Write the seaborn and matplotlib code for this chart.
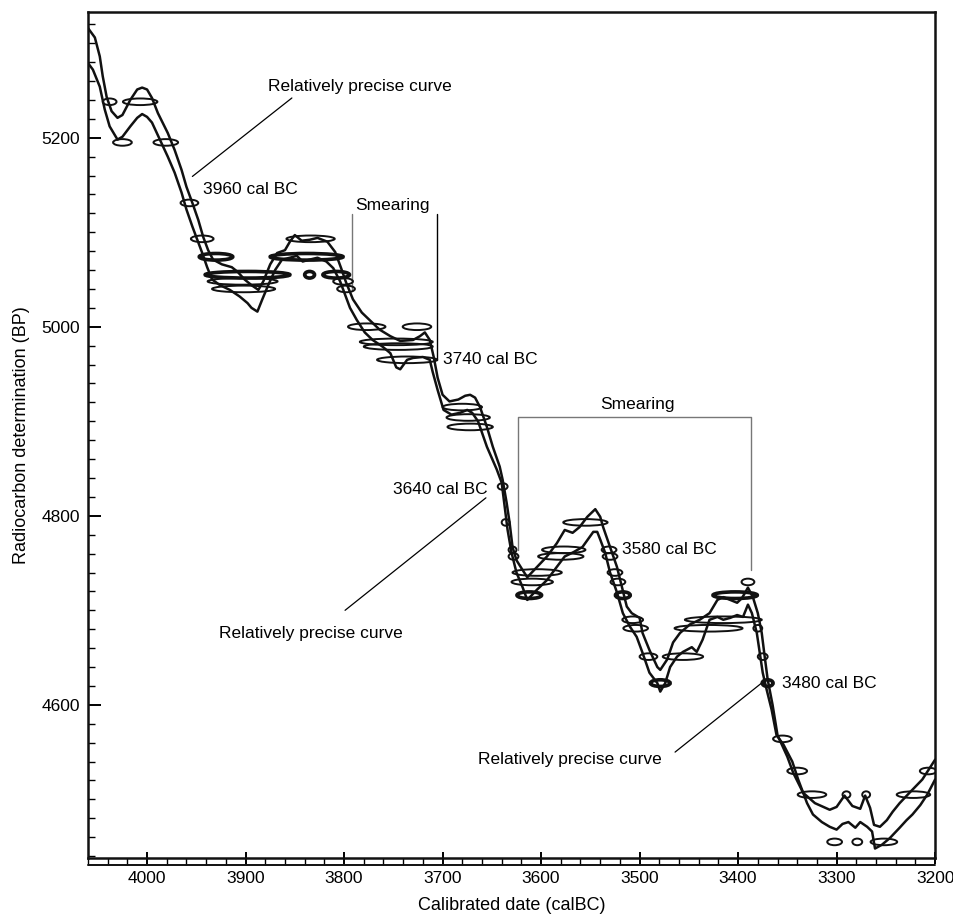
import pandas as pd
import matplotlib
matplotlib.use('Agg')
from matplotlib import pyplot as plt
from matplotlib.patches import Ellipse
import matplotlib.ticker as mtick
import seaborn as sns

# upper and lower edges of the calibration curve band (calBC, BP)
upper_x = [4060, 4053, 4048, 4045, 4041, 4036, 4030, 4025, 4017, 4010, 4005, 4000, 3995, 3989,
           3979, 3972, 3965, 3960, 3954, 3948, 3943, 3938, 3933, 3924, 3914, 3908, 3901, 3894,
           3887, 3882, 3875, 3868, 3860, 3855, 3850, 3843, 3835, 3827, 3817, 3809, 3803, 3798,
           3791, 3782, 3772, 3764, 3753, 3743, 3730, 3723, 3718, 3713, 3709, 3705, 3700, 3693,
           3684, 3677, 3672, 3667, 3662, 3655, 3649, 3642, 3639, 3635, 3632, 3629, 3625, 3619,
           3614, 3604, 3594, 3584, 3576, 3568, 3561, 3553, 3545, 3540, 3537, 3530, 3523, 3518,
           3513, 3508, 3500, 3497, 3490, 3482, 3479, 3472, 3466, 3459, 3449, 3439, 3429, 3421,
           3415, 3408, 3401, 3396, 3390, 3385, 3380, 3376, 3373, 3370, 3365, 3360, 3350, 3344,
           3334, 3322, 3307, 3300, 3292, 3284, 3276, 3271, 3266, 3262, 3256, 3249, 3243, 3236,
           3226, 3213, 3200]
upper_y = [5316, 5306, 5286, 5265, 5243, 5228, 5221, 5224, 5240, 5251, 5253, 5251, 5242, 5226,
           5205, 5187, 5166, 5148, 5131, 5113, 5095, 5081, 5071, 5066, 5063, 5058, 5050, 5044,
           5039, 5048, 5066, 5078, 5081, 5090, 5097, 5091, 5092, 5094, 5090, 5079, 5062, 5047,
           5029, 5015, 5005, 4997, 4990, 4985, 4986, 4990, 4994, 4986, 4968, 4946, 4928, 4921,
           4923, 4927, 4928, 4925, 4915, 4894, 4873, 4852, 4838, 4814, 4793, 4767, 4753, 4743,
           4735, 4746, 4757, 4771, 4785, 4782, 4788, 4799, 4807, 4799, 4788, 4767, 4746, 4725,
           4704, 4697, 4692, 4676, 4658, 4640, 4637, 4648, 4666, 4676, 4685, 4690, 4697, 4711,
           4714, 4711, 4708, 4713, 4724, 4714, 4697, 4676, 4651, 4627, 4600, 4568, 4545, 4528,
           4507, 4496, 4489, 4492, 4504, 4493, 4490, 4504, 4491, 4473, 4471, 4478, 4487, 4496,
           4507, 4521, 4542]

lower_x = [4060, 4055, 4048, 4043, 4038, 4030, 4025, 4017, 4010, 4005, 4000, 3995, 3987, 3979,
           3972, 3965, 3960, 3954, 3949, 3944, 3939, 3934, 3926, 3916, 3906, 3898, 3894, 3888,
           3883, 3877, 3870, 3863, 3855, 3848, 3842, 3835, 3827, 3818, 3811, 3804, 3799, 3794,
           3787, 3779, 3771, 3761, 3753, 3747, 3743, 3736, 3730, 3720, 3713, 3710, 3705, 3699,
           3691, 3682, 3675, 3670, 3664, 3655, 3645, 3640, 3637, 3634, 3630, 3625, 3619, 3614,
           3604, 3594, 3584, 3576, 3568, 3558, 3547, 3543, 3540, 3535, 3530, 3523, 3517, 3510,
           3503, 3497, 3490, 3482, 3479, 3474, 3469, 3462, 3456, 3447, 3442, 3436, 3429, 3421,
           3415, 3408, 3401, 3395, 3390, 3386, 3381, 3378, 3375, 3371, 3366, 3361, 3354, 3345,
           3339, 3330, 3324, 3315, 3307, 3300, 3294, 3288, 3281, 3276, 3269, 3264, 3261, 3254,
           3246, 3236, 3229, 3223, 3215, 3208, 3200]
lower_y = [5279, 5272, 5254, 5230, 5212, 5198, 5201, 5212, 5221, 5225, 5222, 5216, 5198, 5180,
           5163, 5142, 5124, 5106, 5092, 5078, 5063, 5050, 5044, 5039, 5032, 5025, 5020, 5016,
           5029, 5044, 5060, 5071, 5073, 5075, 5069, 5071, 5073, 5069, 5062, 5048, 5034, 5020,
           5007, 4994, 4986, 4979, 4972, 4957, 4955, 4965, 4967, 4968, 4965, 4952, 4933, 4912,
           4907, 4909, 4912, 4909, 4900, 4873, 4849, 4835, 4810, 4785, 4761, 4740, 4725, 4711,
           4722, 4732, 4746, 4757, 4761, 4767, 4783, 4783, 4775, 4761, 4740, 4719, 4697, 4683,
           4672, 4655, 4634, 4623, 4614, 4623, 4640, 4651, 4656, 4661, 4656, 4669, 4690, 4693,
           4690, 4692, 4695, 4693, 4706, 4697, 4676, 4655, 4634, 4616, 4595, 4568, 4558, 4540,
           4521, 4496, 4484, 4476, 4471, 4468, 4474, 4476, 4470, 4476, 4471, 4466, 4448, 4452,
           4459, 4470, 4478, 4484, 4494, 4505, 4521]

# intercept ellipses: centre date, radiocarbon level, spread in years
ell_x = [4038, 4007, 4025, 3981, 3957, 3944, 3834, 3930, 3838, 3898, 3835, 3808, 3903, 3801,
         3902, 3798, 3777, 3726, 3747, 3745, 3736, 3680, 3674, 3672, 3639, 3636, 3555, 3629,
         3577, 3531, 3628, 3580, 3530, 3604, 3525, 3609, 3522, 3390, 3612, 3517, 3403, 3507,
         3415, 3504, 3430, 3380, 3491, 3456, 3375, 3479, 3370, 3355, 3340, 3207, 3325, 3290,
         3270, 3222, 3302, 3279, 3252]
ell_y = [5238, 5238, 5195, 5195, 5131, 5093, 5093, 5074, 5074, 5055, 5055, 5055, 5048, 5048,
         5040, 5040, 5000, 5000, 4984, 4979, 4965, 4915, 4904, 4894, 4831, 4793, 4793, 4764,
         4764, 4764, 4757, 4757, 4757, 4740, 4740, 4730, 4730, 4730, 4716, 4716, 4716, 4690,
         4690, 4681, 4681, 4681, 4651, 4651, 4651, 4623, 4623, 4564, 4530, 4530, 4505, 4505,
         4505, 4505, 4455, 4455, 4455]
ell_w = [14, 35, 19, 25, 18, 23, 49, 34, 74, 86, 10, 27, 71, 20,
         64, 18, 38, 29, 74, 70, 61, 40, 44, 46, 10, 8, 45, 8,
         44, 15, 10, 46, 15, 50, 15, 42, 15, 13, 25, 15, 45, 21,
         78, 25, 69, 9, 18, 41, 10, 20, 11, 19, 20, 17, 29, 8,
         8, 34, 15, 10, 27]

band = pd.concat([
    pd.DataFrame({'date': upper_x, 'bp': upper_y, 'edge': 'upper'}),
    pd.DataFrame({'date': lower_x, 'bp': lower_y, 'edge': 'lower'}),
])

sns.set_style('white')
plt.rcParams['font.family'] = ['Liberation Sans', 'DejaVu Sans']
plt.rcParams['text.color'] = 'black'
plt.rcParams['axes.labelcolor'] = 'black'
plt.rcParams['xtick.color'] = 'black'
plt.rcParams['ytick.color'] = 'black'

fig = plt.figure(figsize=(9.54, 9.14), dpi=100)
ax = fig.add_axes([0.0922, 0.0613, 0.888, 0.9256])

sns.lineplot(data=band, x='date', y='bp', units='edge', estimator=None, sort=False,
             color='#111111', linewidth=1.8, ax=ax)

bold_rows = {5074, 5055, 4716, 4623}
for x, y, w in zip(ell_x, ell_y, ell_w):
    lw = 2.6 if y in bold_rows else 1.4
    ax.add_patch(Ellipse((x, y), w, 7, facecolor='none', edgecolor='#111111',
                         linewidth=lw, zorder=4))

fs = 12.5
# upper annotations
ax.text(3877, 5254, 'Relatively precise curve', fontsize=fs, va='center', ha='left')
ax.plot([3853, 3954], [5242, 5159], color='black', lw=0.9)
ax.text(3943, 5145, '3960 cal BC', fontsize=fs, va='center', ha='left')

ax.text(3751, 5128, 'Smearing', fontsize=fs, va='center', ha='center')
ax.plot([3792, 3792], [5119, 5039], color='#777777', lw=1.0)
ax.plot([3706, 3706], [5119, 4965], color='black', lw=1.0)
ax.text(3700, 4965, '3740 cal BC', fontsize=fs, va='center', ha='left')

ax.text(3502, 4918, 'Smearing', fontsize=fs, va='center', ha='center')
ax.plot([3623.5, 3623.5, 3387, 3387], [4764, 4905, 4905, 4743], color='#777777', lw=1.0)

ax.text(3654, 4828, '3640 cal BC', fontsize=fs, va='center', ha='right')
ax.plot([3656, 3799], [4819, 4700], color='black', lw=0.9)
ax.text(3834, 4676, 'Relatively precise curve', fontsize=fs, va='center', ha='center')

ax.text(3518, 4764, '3580 cal BC', fontsize=fs, va='center', ha='left')
ax.text(3355, 4623, '3480 cal BC', fontsize=fs, va='center', ha='left')
ax.plot([3375, 3464], [4624, 4550], color='black', lw=0.9)
ax.text(3571, 4542, 'Relatively precise curve', fontsize=fs, va='center', ha='center')

ax.set_xlim(4060, 3200)
ax.set_ylim(4438, 5333)
ax.xaxis.set_major_locator(mtick.MultipleLocator(100))
ax.xaxis.set_minor_locator(mtick.MultipleLocator(20))
ax.yaxis.set_major_locator(mtick.FixedLocator([4600, 4800, 5000, 5200]))
ax.yaxis.set_minor_locator(mtick.MultipleLocator(20))

ax.tick_params(axis='x', which='major', direction='inout', length=9, width=1.4,
               labelsize=fs, pad=5, bottom=True)
ax.tick_params(axis='x', which='minor', direction='out', length=5, width=1.0, bottom=True)
ax.tick_params(axis='y', which='major', direction='in', length=9, width=1.4,
               labelsize=fs, pad=6, left=True)
ax.tick_params(axis='y', which='minor', direction='in', length=5, width=1.0, left=True)

for s in ax.spines.values():
    s.set_linewidth(1.8)
    s.set_color('#111111')

# second rule line under the x axis
ax.plot([0, 1], [-0.0085, -0.0085], transform=ax.transAxes, color='#111111',
        lw=1.4, clip_on=False)

ax.set_xlabel('Calibrated date (calBC)', fontsize=13, labelpad=8)
ax.set_ylabel('Radiocarbon determination (BP)', fontsize=13, labelpad=8)

fig.savefig('out.png', dpi=100)
